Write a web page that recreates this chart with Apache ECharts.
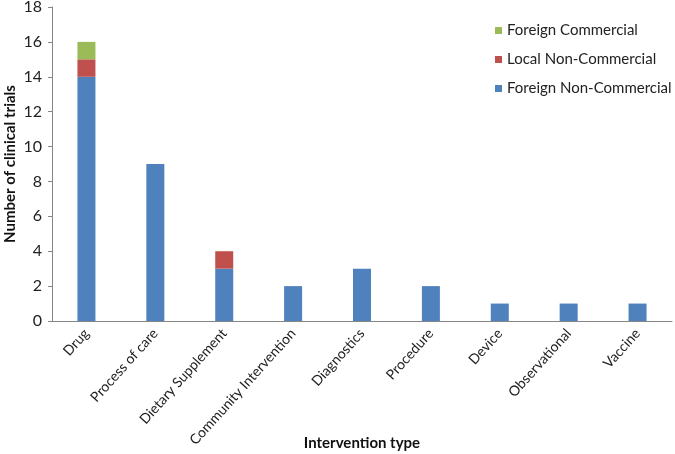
<!DOCTYPE html>
<html>
<head>
<meta charset="utf-8">
<script src="https://cdn.jsdelivr.net/npm/echarts@6/dist/echarts.min.js"></script>
<style>
  html, body { margin: 0; padding: 0; background: #fff; }
  #chart { width: 675px; height: 454px; }
</style>
</head>
<body>
<div id="chart"></div>
<script>
  const categories = ['Drug', 'Process of care', 'Dietary Supplement', 'Community Intervention',
    'Diagnostics', 'Procedure', 'Device', 'Observational', 'Vaccine'];
  const foreignNonCommercial = [14, 9, 3, 2, 3, 2, 1, 1, 1];
  const localNonCommercial = [1, 0, 1, 0, 0, 0, 0, 0, 0];
  const foreignCommercial = [1, 0, 0, 0, 0, 0, 0, 0, 0];
  const yTicks = [0, 2, 4, 6, 8, 10, 12, 14, 16, 18];

  const font = 'Lato, "Open Sans", sans-serif';
  const chart = echarts.init(document.getElementById('chart'));

  function bar(name, data, color) {
    return {
      name: name,
      type: 'bar',
      stack: 'total',
      barWidth: 18,
      itemStyle: { color: color },
      data: data
    };
  }

  chart.setOption({
    animation: false,
    textStyle: { fontFamily: font },
    grid: { left: 52, right: 3, top: 7, bottom: 133, outerBoundsMode: 'none', containLabel: false },
    legend: {
      orient: 'vertical',
      left: 490,
      top: 17,
      itemGap: 12,
      itemWidth: 7,
      itemHeight: 7,
      icon: 'rect',
      textStyle: { fontSize: 15, color: '#222', fontFamily: font, lineHeight: 17 },
      data: ['Foreign Commercial', 'Local Non-Commercial', 'Foreign Non-Commercial']
    },
    xAxis: {
      type: 'category',
      data: categories,
      name: 'Intervention type',
      nameLocation: 'middle',
      nameGap: 115,
      nameMoveOverlap: false,
      nameTextStyle: { fontWeight: 'bold', fontSize: 15, color: '#111' },
      axisLine: { lineStyle: { color: '#868686' } },
      axisTick: { show: false },
      axisLabel: { rotate: 48, interval: 0, fontSize: 14, color: '#222', margin: 10 }
    },
    yAxis: {
      type: 'value',
      min: yTicks[0],
      max: yTicks[yTicks.length - 1],
      interval: 2,
      name: 'Number of clinical trials',
      nameLocation: 'middle',
      nameGap: 34,
      nameMoveOverlap: false,
      nameTextStyle: { fontWeight: 'bold', fontSize: 15, color: '#111' },
      axisLine: { show: true, lineStyle: { color: '#868686' } },
      axisTick: { show: true, length: 4, lineStyle: { color: '#868686' } },
      splitLine: { show: false },
      axisLabel: { fontSize: 16, color: '#222', margin: 10 }
    },
    series: [
      bar('Foreign Non-Commercial', foreignNonCommercial, '#4f81bd'),
      bar('Local Non-Commercial', localNonCommercial, '#c0504d'),
      bar('Foreign Commercial', foreignCommercial, '#9bbb59')
    ]
  });
</script>
</body>
</html>
